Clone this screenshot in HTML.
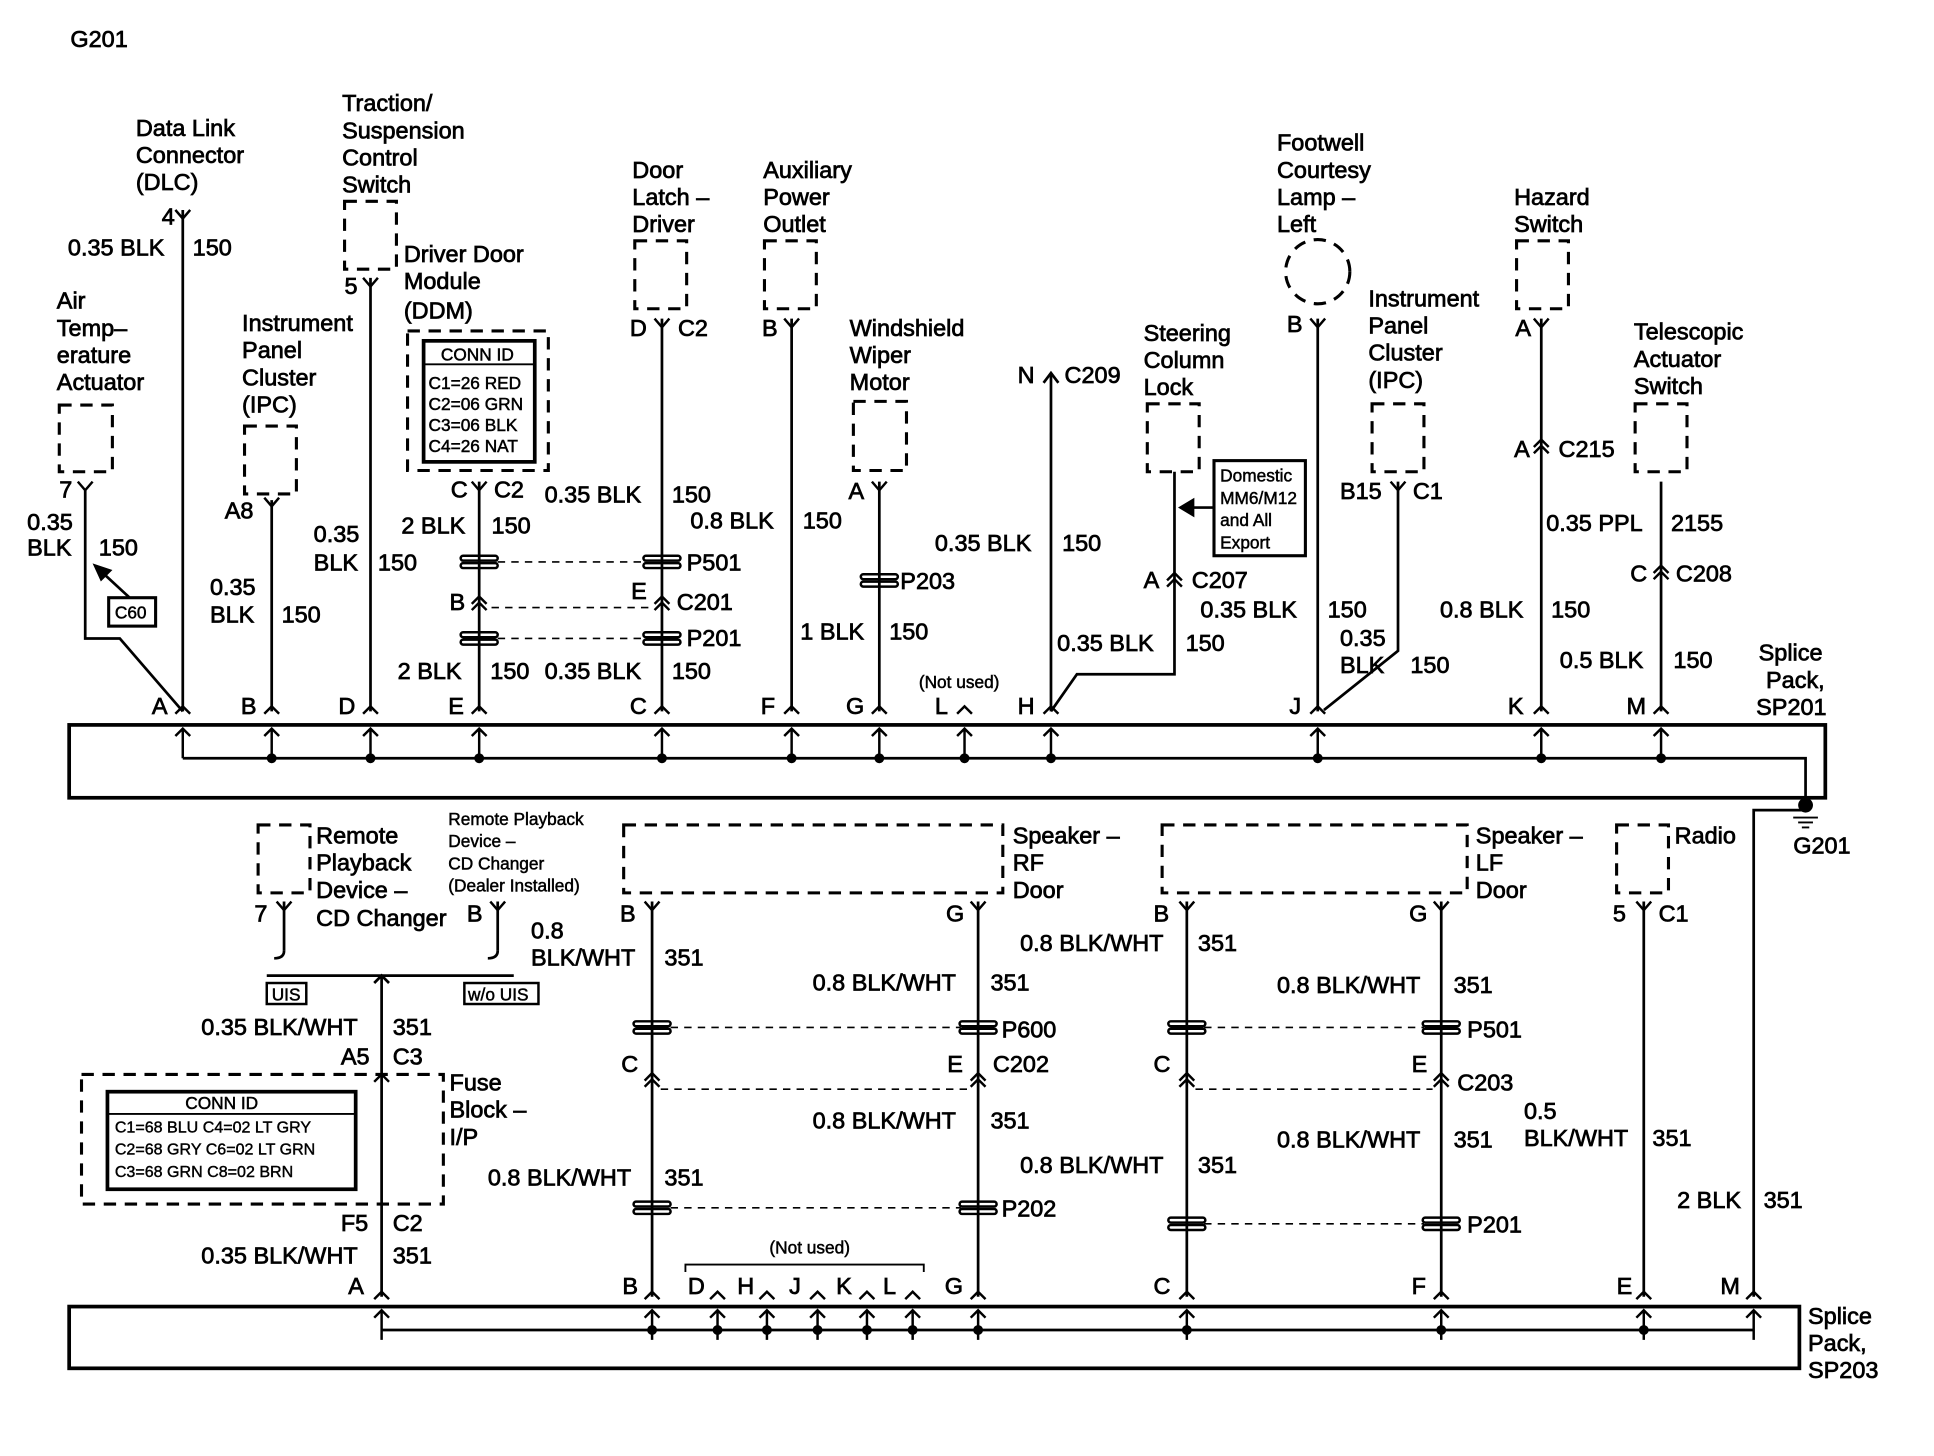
<!DOCTYPE html>
<html><head><meta charset="utf-8"><style>
html,body{margin:0;padding:0;background:#fff;}
svg{display:block}
text{font-family:"Liberation Sans",Arial,sans-serif;font-size:19px;fill:#000;stroke:#000;stroke-width:0.6}
.s{font-size:14px;stroke-width:0.4}
.t{font-size:13px;stroke-width:0.35}
</style></head><body>
<svg width="1934" height="1456" viewBox="0 0 1566 1179" preserveAspectRatio="none" xmlns="http://www.w3.org/2000/svg">
<defs>
<path id="yv" d="M-6,-7 L0,0 L6,-7" fill="none" stroke="#000" stroke-width="2"/>
<path id="ch" d="M-6,6 L0,0 L6,6" fill="none" stroke="#000" stroke-width="2"/>
<g id="dch"><path d="M-6,5 L0,-1 L6,5 M-6,10 L0,4 L6,10" fill="none" stroke="#000" stroke-width="2"/></g>
<g id="ua"><path d="M0,26 L0,2 M-6,8 L0,2 L6,8" fill="none" stroke="#000" stroke-width="2"/></g>
<g id="sp"><rect x="-15" y="-5" width="30" height="4" rx="2" fill="none" stroke="#000" stroke-width="2"/><rect x="-15" y="1" width="30" height="4" rx="2" fill="none" stroke="#000" stroke-width="2"/></g>
</defs>
<g fill="none" stroke="#000" stroke-width="2.2">
<rect x="56" y="587" width="1422" height="59" stroke-width="3"/>
<path d="M148,614 H1462 V652"/>
<path d="M69,397 V517 H97 L148,576"/>
<path d="M148,170 V576"/>
<path d="M220,405 V576"/>
<path d="M300,225 V576"/>
<path d="M388,390 V576"/>
<path d="M536,258 V576"/>
<path d="M641,258 V576"/>
<path d="M712,390 V576"/>
<path d="M851,302 V576"/>
<path d="M851,576 L872,546 H951 V382"/>
<path d="M1067,258 V576"/>
<path d="M1132,390 V527 L1072,575"/>
<path d="M1248,258 V576"/>
<path d="M1345,390 V576"/>
<path d="M845,310 L851,302 L857,310"/>
<g stroke-dasharray="10,7" stroke-width="2.5">
<rect x="48" y="328" width="43" height="54"/>
<rect x="198" y="345" width="42" height="55"/>
<rect x="279" y="163" width="42" height="55"/>
<rect x="330" y="268" width="114" height="113"/>
<rect x="514" y="195" width="42" height="55"/>
<rect x="619" y="195" width="42" height="55"/>
<rect x="691" y="325" width="43" height="56"/>
<rect x="929" y="327" width="42" height="55"/>
<circle cx="1067" cy="220" r="26"/>
<rect x="1111" y="327" width="42" height="55"/>
<rect x="1228" y="195" width="42" height="55"/>
<rect x="1324" y="327" width="42" height="55"/>
<rect x="209" y="668" width="42" height="55"/>
<path d="M505,668 H812 V723 H505 Z"/>
<path d="M941,668 H1188 V723 H941 Z"/>
<rect x="1309" y="668" width="42" height="55"/>
<rect x="66" y="870" width="293" height="105"/>
</g>
<g stroke-dasharray="6,5" stroke-width="1.3">
<path d="M403,455 H522"/><path d="M398,492 H528"/><path d="M403,517 H522"/>
<path d="M543,832 H778"/><path d="M535,882 H786"/><path d="M543,978 H778"/>
<path d="M975,832 H1153"/><path d="M968,882 H1160"/><path d="M975,991 H1153"/>
</g>
<rect x="343" y="276" width="90" height="98" stroke-width="3"/>
<path d="M343,295 H433" stroke-width="1.5"/>
<rect x="88" y="484" width="38" height="23" stroke-width="2.5"/>
<path d="M105,484 L80,461"/><path d="M77,458 L89,462 L82,469 Z" fill="#000"/>
<rect x="983" y="373" width="74" height="77" stroke-width="2.5"/>
<path d="M983,411 H960"/><path d="M956,411 L966,405 L966,417 Z" fill="#000"/>
<rect x="87" y="884" width="201" height="79" stroke-width="3"/>
<path d="M87,902 H288" stroke-width="1.5"/>
<rect x="56" y="1058" width="1401" height="50" stroke-width="3"/>
<path d="M309,1077 H1420"/>
<path d="M1462,656 H1420 V1050"/>
<path d="M230,730 V770 M403,730 V770"/>
<path d="M222,776 Q230,776 230,770 M395,776 Q403,776 403,770"/>
<path d="M216,790 H416 M309,790 V1050"/>
<path d="M303,796 L309,790 L315,796"/>
<path d="M528,730 V1050 M792,730 V1050 M961,730 V1050 M1167,730 V1050 M1331,730 V1050"/>
<rect x="216" y="796" width="32" height="17" stroke-width="2"/>
<rect x="376" y="796" width="60" height="17" stroke-width="2"/>
<path d="M555,1030 V1024 H748 V1030" stroke-width="1.5"/>
</g>
<circle cx="1462" cy="652" r="6" fill="#000"/>
<path d="M1452,662 H1472 M1456,666 H1468 M1459,670 H1465" stroke="#000" stroke-width="1.5"/>
<g fill="#000">
<circle cx="220" cy="614" r="4"/><circle cx="300" cy="614" r="4"/><circle cx="388" cy="614" r="4"/><circle cx="536" cy="614" r="4"/><circle cx="641" cy="614" r="4"/><circle cx="712" cy="614" r="4"/><circle cx="781" cy="614" r="4"/><circle cx="851" cy="614" r="4"/><circle cx="1067" cy="614" r="4"/><circle cx="1248" cy="614" r="4"/><circle cx="1345" cy="614" r="4"/>
<circle cx="528" cy="1077" r="4"/><circle cx="581" cy="1077" r="4"/><circle cx="621" cy="1077" r="4"/><circle cx="662" cy="1077" r="4"/><circle cx="702" cy="1077" r="4"/><circle cx="739" cy="1077" r="4"/><circle cx="792" cy="1077" r="4"/><circle cx="961" cy="1077" r="4"/><circle cx="1167" cy="1077" r="4"/><circle cx="1331" cy="1077" r="4"/>
</g>
<g>
<use href="#ua" x="148" y="588"/><use href="#ua" x="220" y="588"/><use href="#ua" x="300" y="588"/><use href="#ua" x="388" y="588"/><use href="#ua" x="536" y="588"/><use href="#ua" x="641" y="588"/><use href="#ua" x="712" y="588"/><use href="#ua" x="781" y="588"/><use href="#ua" x="851" y="588"/><use href="#ua" x="1067" y="588"/><use href="#ua" x="1248" y="588"/><use href="#ua" x="1345" y="588"/>
<use href="#ch" x="148" y="572"/><use href="#ch" x="220" y="572"/><use href="#ch" x="300" y="572"/><use href="#ch" x="388" y="572"/><use href="#ch" x="536" y="572"/><use href="#ch" x="641" y="572"/><use href="#ch" x="712" y="572"/><use href="#ch" x="781" y="572"/><use href="#ch" x="851" y="572"/><use href="#ch" x="1067" y="572"/><use href="#ch" x="1248" y="572"/><use href="#ch" x="1345" y="572"/>
<use href="#yv" x="148" y="177"/><use href="#yv" x="69" y="397"/><use href="#yv" x="220" y="410"/><use href="#yv" x="300" y="232"/><use href="#yv" x="388" y="397"/><use href="#yv" x="536" y="265"/><use href="#yv" x="641" y="265"/><use href="#yv" x="712" y="397"/><use href="#yv" x="1067" y="265"/><use href="#yv" x="1132" y="397"/><use href="#yv" x="1248" y="265"/>
<use href="#dch" x="388" y="484"/><use href="#dch" x="536" y="484"/><use href="#dch" x="951" y="465"/><use href="#dch" x="1248" y="357"/><use href="#dch" x="1345" y="459"/>
<use href="#sp" x="388" y="455"/><use href="#sp" x="536" y="455"/><use href="#sp" x="388" y="517"/><use href="#sp" x="536" y="517"/><use href="#sp" x="712" y="470"/>
<use href="#ua" x="309" y="1059"/><use href="#ua" x="528" y="1059"/><use href="#ua" x="581" y="1059"/><use href="#ua" x="621" y="1059"/><use href="#ua" x="662" y="1059"/><use href="#ua" x="702" y="1059"/><use href="#ua" x="739" y="1059"/><use href="#ua" x="792" y="1059"/><use href="#ua" x="961" y="1059"/><use href="#ua" x="1167" y="1059"/><use href="#ua" x="1331" y="1059"/><use href="#ua" x="1420" y="1059"/>
<use href="#ch" x="309" y="1046"/><use href="#ch" x="528" y="1046"/><use href="#ch" x="581" y="1046"/><use href="#ch" x="621" y="1046"/><use href="#ch" x="662" y="1046"/><use href="#ch" x="702" y="1046"/><use href="#ch" x="739" y="1046"/><use href="#ch" x="792" y="1046"/><use href="#ch" x="961" y="1046"/><use href="#ch" x="1167" y="1046"/><use href="#ch" x="1331" y="1046"/><use href="#ch" x="1420" y="1046"/>
<use href="#yv" x="230" y="737"/><use href="#yv" x="403" y="737"/><use href="#yv" x="528" y="737"/><use href="#yv" x="792" y="737"/><use href="#yv" x="961" y="737"/><use href="#yv" x="1167" y="737"/><use href="#yv" x="1331" y="737"/>
<use href="#ch" x="309" y="870"/>
<use href="#dch" x="528" y="870"/><use href="#dch" x="792" y="870"/><use href="#dch" x="961" y="870"/><use href="#dch" x="1167" y="870"/>
<use href="#sp" x="528" y="832"/><use href="#sp" x="792" y="832"/><use href="#sp" x="961" y="832"/><use href="#sp" x="1167" y="832"/><use href="#sp" x="528" y="978"/><use href="#sp" x="792" y="978"/><use href="#sp" x="961" y="991"/><use href="#sp" x="1167" y="991"/>
</g>
<text x="57" y="38">G201</text>
<text x="110" y="110">Data Link</text><text x="110" y="132">Connector</text><text x="110" y="154">(DLC)</text>
<text x="131" y="182">4</text><text x="55" y="207">0.35 BLK</text><text x="156" y="207">150</text>
<text x="277" y="90">Traction/</text><text x="277" y="112">Suspension</text><text x="277" y="134">Control</text><text x="277" y="156">Switch</text>
<text x="279" y="238">5</text>
<text x="327" y="212">Driver Door</text><text x="327" y="234">Module</text><text x="327" y="258">(DDM)</text>
<text class="s" x="357" y="292">CONN ID</text>
<text class="s" x="347" y="315">C1=26 RED</text><text class="s" x="347" y="332">C2=06 GRN</text><text class="s" x="347" y="349">C3=06 BLK</text><text class="s" x="347" y="366">C4=26 NAT</text>
<text x="46" y="250">Air</text><text x="46" y="272">Temp–</text><text x="46" y="294">erature</text><text x="46" y="316">Actuator</text>
<text x="48" y="403">7</text><text x="22" y="429">0.35</text><text x="22" y="450">BLK</text><text x="80" y="450">150</text>
<text class="s" x="93" y="501">C60</text>
<text x="196" y="268">Instrument</text><text x="196" y="290">Panel</text><text x="196" y="312">Cluster</text><text x="196" y="334">(IPC)</text>
<text x="182" y="420">A8</text><text x="170" y="482">0.35</text><text x="170" y="504">BLK</text><text x="228" y="504">150</text>
<text x="254" y="439">0.35</text><text x="254" y="462">BLK</text><text x="306" y="462">150</text>
<text x="365" y="403">C</text><text x="400" y="403">C2</text>
<text x="325" y="432">2 BLK</text><text x="398" y="432">150</text>
<text x="364" y="494">B</text>
<text x="322" y="550">2 BLK</text><text x="397" y="550">150</text>
<text x="512" y="144">Door</text><text x="512" y="166">Latch –</text><text x="512" y="188">Driver</text>
<text x="510" y="272">D</text><text x="549" y="272">C2</text>
<text x="441" y="407">0.35 BLK</text><text x="544" y="407">150</text>
<text x="556" y="462">P501</text><text x="511" y="485">E</text><text x="548" y="494">C201</text><text x="556" y="523">P201</text>
<text x="441" y="550">0.35 BLK</text><text x="544" y="550">150</text>
<text x="618" y="144">Auxiliary</text><text x="618" y="166">Power</text><text x="618" y="188">Outlet</text>
<text x="617" y="272">B</text>
<text x="559" y="428">0.8 BLK</text><text x="650" y="428">150</text>
<text x="688" y="272">Windshield</text><text x="688" y="294">Wiper</text><text x="688" y="316">Motor</text>
<text x="687" y="404">A</text><text x="729" y="477">P203</text>
<text x="648" y="518">1 BLK</text><text x="720" y="518">150</text>
<text class="s" x="744" y="557">(Not used)</text>
<text x="824" y="310">N</text><text x="862" y="310">C209</text>
<text x="757" y="446">0.35 BLK</text><text x="860" y="446">150</text>
<text x="856" y="527">0.35 BLK</text><text x="960" y="527">150</text>
<text x="926" y="276">Steering</text><text x="926" y="298">Column</text><text x="926" y="320">Lock</text>
<text class="s" x="988" y="390">Domestic</text><text class="s" x="988" y="408">MM6/M12</text><text class="s" x="988" y="426">and All</text><text class="s" x="988" y="444">Export</text>
<text x="926" y="476">A</text><text x="965" y="476">C207</text>
<text x="972" y="500">0.35 BLK</text><text x="1075" y="500">150</text>
<text x="1034" y="122">Footwell</text><text x="1034" y="144">Courtesy</text><text x="1034" y="166">Lamp –</text><text x="1034" y="188">Left</text>
<text x="1042" y="269">B</text>
<text x="1108" y="248">Instrument</text><text x="1108" y="270">Panel</text><text x="1108" y="292">Cluster</text><text x="1108" y="314">(IPC)</text>
<text x="1085" y="404">B15</text><text x="1144" y="404">C1</text>
<text x="1085" y="523">0.35</text><text x="1085" y="545">BLK</text><text x="1142" y="545">150</text>
<text x="1226" y="166">Hazard</text><text x="1226" y="188">Switch</text>
<text x="1227" y="272">A</text><text x="1226" y="370">A</text><text x="1262" y="370">C215</text>
<text x="1252" y="430">0.35 PPL</text><text x="1353" y="430">2155</text>
<text x="1166" y="500">0.8 BLK</text><text x="1256" y="500">150</text>
<text x="1323" y="275">Telescopic</text><text x="1323" y="297">Actuator</text><text x="1323" y="319">Switch</text>
<text x="1320" y="471">C</text><text x="1357" y="471">C208</text>
<text x="1263" y="541">0.5 BLK</text><text x="1355" y="541">150</text>
<text x="1424" y="535">Splice</text><text x="1430" y="557">Pack,</text><text x="1422" y="579">SP201</text>
<text x="123" y="578">A</text><text x="195" y="578">B</text><text x="274" y="578">D</text><text x="363" y="578">E</text><text x="510" y="578">C</text><text x="616" y="578">F</text><text x="685" y="578">G</text><text x="757" y="578">L</text><text x="824" y="578">H</text><text x="1044" y="578">J</text><text x="1221" y="578">K</text><text x="1317" y="578">M</text>
<text x="1452" y="691">G201</text>
<text x="256" y="683">Remote</text><text x="256" y="705">Playback</text><text x="256" y="727">Device –</text><text x="256" y="750">CD Changer</text>
<text x="206" y="746">7</text><text x="378" y="746">B</text>
<text class="s" x="363" y="668">Remote Playback</text><text class="s" x="363" y="686">Device –</text><text class="s" x="363" y="704">CD Changer</text><text class="s" x="363" y="722">(Dealer Installed)</text>
<text class="s" x="220" y="810">UIS</text><text class="s" x="379" y="810">w/o UIS</text>
<text x="430" y="760">0.8</text><text x="430" y="782">BLK/WHT</text><text x="538" y="782">351</text>
<text x="163" y="838">0.35 BLK/WHT</text><text x="318" y="838">351</text>
<text x="276" y="862">A5</text><text x="318" y="862">C3</text>
<text class="s" x="150" y="898">CONN ID</text>
<text class="t" x="93" y="917">C1=68 BLU  C4=02 LT GRY</text><text class="t" x="93" y="935">C2=68 GRY  C6=02 LT GRN</text><text class="t" x="93" y="953">C3=68 GRN  C8=02 BRN</text>
<text x="364" y="883">Fuse</text><text x="364" y="905">Block –</text><text x="364" y="927">I/P</text>
<text x="276" y="997">F5</text><text x="318" y="997">C2</text>
<text x="163" y="1023">0.35 BLK/WHT</text><text x="318" y="1023">351</text>
<text x="282" y="1048">A</text>
<text x="820" y="683">Speaker –</text><text x="820" y="705">RF</text><text x="820" y="727">Door</text>
<text x="502" y="746">B</text><text x="766" y="746">G</text>
<text x="658" y="802">0.8 BLK/WHT</text><text x="802" y="802">351</text>
<text x="811" y="840">P600</text>
<text x="503" y="868">C</text><text x="767" y="868">E</text><text x="804" y="868">C202</text>
<text x="658" y="914">0.8 BLK/WHT</text><text x="802" y="914">351</text>
<text x="395" y="960">0.8 BLK/WHT</text><text x="538" y="960">351</text>
<text x="811" y="985">P202</text>
<text class="s" x="623" y="1015">(Not used)</text>
<text x="504" y="1048">B</text><text x="557" y="1048">D</text><text x="597" y="1048">H</text><text x="639" y="1048">J</text><text x="677" y="1048">K</text><text x="715" y="1048">L</text><text x="765" y="1048">G</text>
<text x="1195" y="683">Speaker –</text><text x="1195" y="705">LF</text><text x="1195" y="727">Door</text>
<text x="934" y="746">B</text><text x="1141" y="746">G</text>
<text x="826" y="770">0.8 BLK/WHT</text><text x="970" y="770">351</text>
<text x="1034" y="804">0.8 BLK/WHT</text><text x="1177" y="804">351</text>
<text x="1188" y="840">P501</text>
<text x="934" y="868">C</text><text x="1143" y="868">E</text><text x="1180" y="883">C203</text>
<text x="1034" y="929">0.8 BLK/WHT</text><text x="1177" y="929">351</text>
<text x="826" y="950">0.8 BLK/WHT</text><text x="970" y="950">351</text>
<text x="1188" y="998">P201</text>
<text x="934" y="1048">C</text><text x="1143" y="1048">F</text>
<text x="1356" y="683">Radio</text>
<text x="1306" y="746">5</text><text x="1343" y="746">C1</text>
<text x="1234" y="906">0.5</text><text x="1234" y="928">BLK/WHT</text><text x="1338" y="928">351</text>
<text x="1358" y="978">2 BLK</text><text x="1428" y="978">351</text>
<text x="1309" y="1048">E</text><text x="1393" y="1048">M</text>
<text x="1464" y="1072">Splice</text><text x="1464" y="1094">Pack,</text><text x="1464" y="1116">SP203</text>
</svg>
</body></html>
